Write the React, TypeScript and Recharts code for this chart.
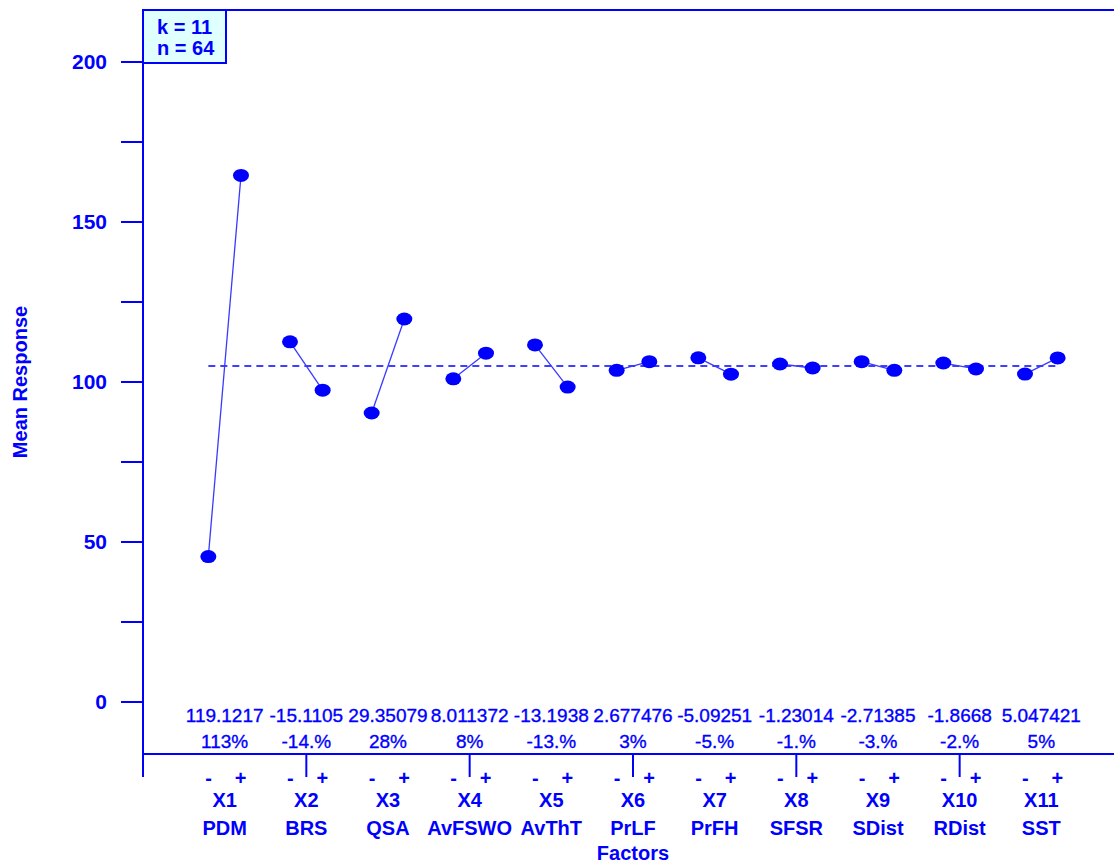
import React from 'react';
import { ComposedChart, Line, XAxis, YAxis, ReferenceLine } from 'recharts';

const factorIds = ['X1', 'X2', 'X3', 'X4', 'X5', 'X6', 'X7', 'X8', 'X9', 'X10', 'X11'];
const factorNames = ['PDM', 'BRS', 'QSA', 'AvFSWO', 'AvThT', 'PrLF', 'PrFH', 'SFSR', 'SDist', 'RDist', 'SST'];
const effectLabels = ['119.1217', '-15.1105', '29.35079', '8.011372', '-13.1938', '2.677476', '-5.09251', '-1.23014', '-2.71385', '-1.8668', '5.047421'];
const percentLabels = ['113%', '-14.%', '28%', '8%', '-13.%', '3%', '-5.%', '-1.%', '-3.%', '-2.%', '5%'];
const lowMeans = [45.44, 112.56, 90.32, 101.0, 111.6, 103.66, 107.55, 105.62, 106.36, 105.93, 102.48];
const highMeans = [164.56, 97.44, 119.68, 109.0, 98.4, 106.34, 102.45, 104.38, 103.64, 104.07, 107.52];
const grandMean = 105.0;
const yTicks = [0, 25, 50, 75, 100, 125, 150, 175, 200];
const xTicks = [0, 1, 2, 3, 4, 5, 6, 7, 8, 9, 10, 11];
const boxLines = ['k = 11', 'n = 64'];

const BLUE = '#0000ff';
const FONT = '"Liberation Sans", Arial, sans-serif';
const LEVEL_OFFSET = 0.2;
const Y_DOMAIN: [number, number] = [-16.25, 216.25];
const X_DOMAIN: [number, number] = [0, 11.89];

const factorSeries = factorIds.map((id, i) => ({
  id,
  data: [
    { x: i + 1 - LEVEL_OFFSET, y: lowMeans[i] },
    { x: i + 1 + LEVEL_OFFSET, y: highMeans[i] },
  ],
}));

const Dot = (props: any) => {
  const { cx, cy, index } = props;
  if (cx == null || cy == null) return <g key={index} />;
  return <ellipse key={index} cx={cx} cy={cy} rx={8} ry={6.5} fill={BLUE} />;
};

const FactorTick = (props: any) => {
  const { x, y, payload } = props;
  const v = payload.value as number;
  const tickLine = <line x1={x} y1={y} x2={x} y2={y + 23} stroke={BLUE} strokeWidth={2} />;
  if (v === 0) return <g>{tickLine}</g>;
  const i = v - 1;
  const bold = { fontFamily: FONT, fontWeight: 700, fontSize: 20, fill: BLUE } as const;
  const reg = { fontFamily: FONT, fontWeight: 400, fontSize: 19, fill: BLUE, stroke: BLUE, strokeWidth: 0.35 } as const;
  return (
    <g>
      {v % 2 === 0 && tickLine}
      <text x={x} y={y - 32} textAnchor="middle" {...reg}>{effectLabels[i]}</text>
      <text x={x} y={y - 6} textAnchor="middle" {...reg}>{percentLabels[i]}</text>
      <text x={x - 16} y={y + 31} textAnchor="middle" {...bold}>-</text>
      <text x={x + 16} y={y + 31} textAnchor="middle" {...bold}>+</text>
      <text x={x} y={y + 53} textAnchor="middle" {...bold}>{factorIds[i]}</text>
      <text x={x} y={y + 81} textAnchor="middle" {...bold}>{factorNames[i]}</text>
      {v === 6 && <text x={x} y={y + 106} textAnchor="middle" {...bold}>Factors</text>}
    </g>
  );
};

const YLabel = (props: any) => {
  const vb = props.viewBox || { x: 0, y: 10, width: 143, height: 744 };
  const cx = 27;
  const cy = vb.y + vb.height / 2;
  return (
    <text x={cx} y={cy} transform={`rotate(-90 ${cx} ${cy})`} textAnchor="middle"
      fontFamily={FONT} fontWeight={700} fontSize={20} fill={BLUE}>Mean Response</text>
  );
};

export default function App() {
  return (
    <div style={{ position: 'absolute', left: 0, top: 0, background: '#fff' }}>
      <ComposedChart width={1114} height={865} margin={{ top: 10, right: 0, bottom: 81, left: 0 }}>
        <XAxis
          type="number"
          dataKey="x"
          domain={X_DOMAIN}
          allowDataOverflow
          ticks={xTicks}
          interval={0}
          tickSize={0}
          tickMargin={0}
          height={30}
          tick={<FactorTick />}
          tickLine={false}
          axisLine={{ stroke: BLUE, strokeWidth: 2 }}
        />
        <YAxis
          type="number"
          domain={Y_DOMAIN}
          allowDataOverflow
          ticks={yTicks}
          interval={0}
          width={143}
          tickSize={22}
          tickMargin={14}
          tickFormatter={(v: number) => (v % 50 === 0 ? String(v) : '')}
          tick={{ fill: BLUE, fontSize: 21, fontWeight: 700, fontFamily: FONT }}
          tickLine={{ stroke: BLUE, strokeWidth: 2 }}
          axisLine={{ stroke: BLUE, strokeWidth: 2 }}
          label={<YLabel />}
        />
        <ReferenceLine y={Y_DOMAIN[1]} stroke={BLUE} strokeWidth={2} />
        <ReferenceLine
          segment={[
            { x: 1 - LEVEL_OFFSET, y: grandMean },
            { x: factorIds.length + LEVEL_OFFSET, y: grandMean },
          ]}
          stroke={BLUE}
          strokeWidth={1.6}
          strokeDasharray="7 5"
        />
        {factorSeries.map((s) => (
          <Line
            key={s.id}
            data={s.data}
            dataKey="y"
            type="linear"
            stroke="#3a3aff"
            strokeWidth={1.3}
            dot={<Dot />}
            activeDot={false}
            isAnimationActive={false}
          />
        ))}
        <g>
          <rect x={143} y={10} width={83} height={53} fill="#e0ffff" stroke={BLUE} strokeWidth={2} />
          {boxLines.map((t, i) => (
            <text key={t} x={157} y={34 + i * 20.5} fontFamily={FONT} fontWeight={700} fontSize={20} fill={BLUE}>{t}</text>
          ))}
        </g>
      </ComposedChart>
    </div>
  );
}
